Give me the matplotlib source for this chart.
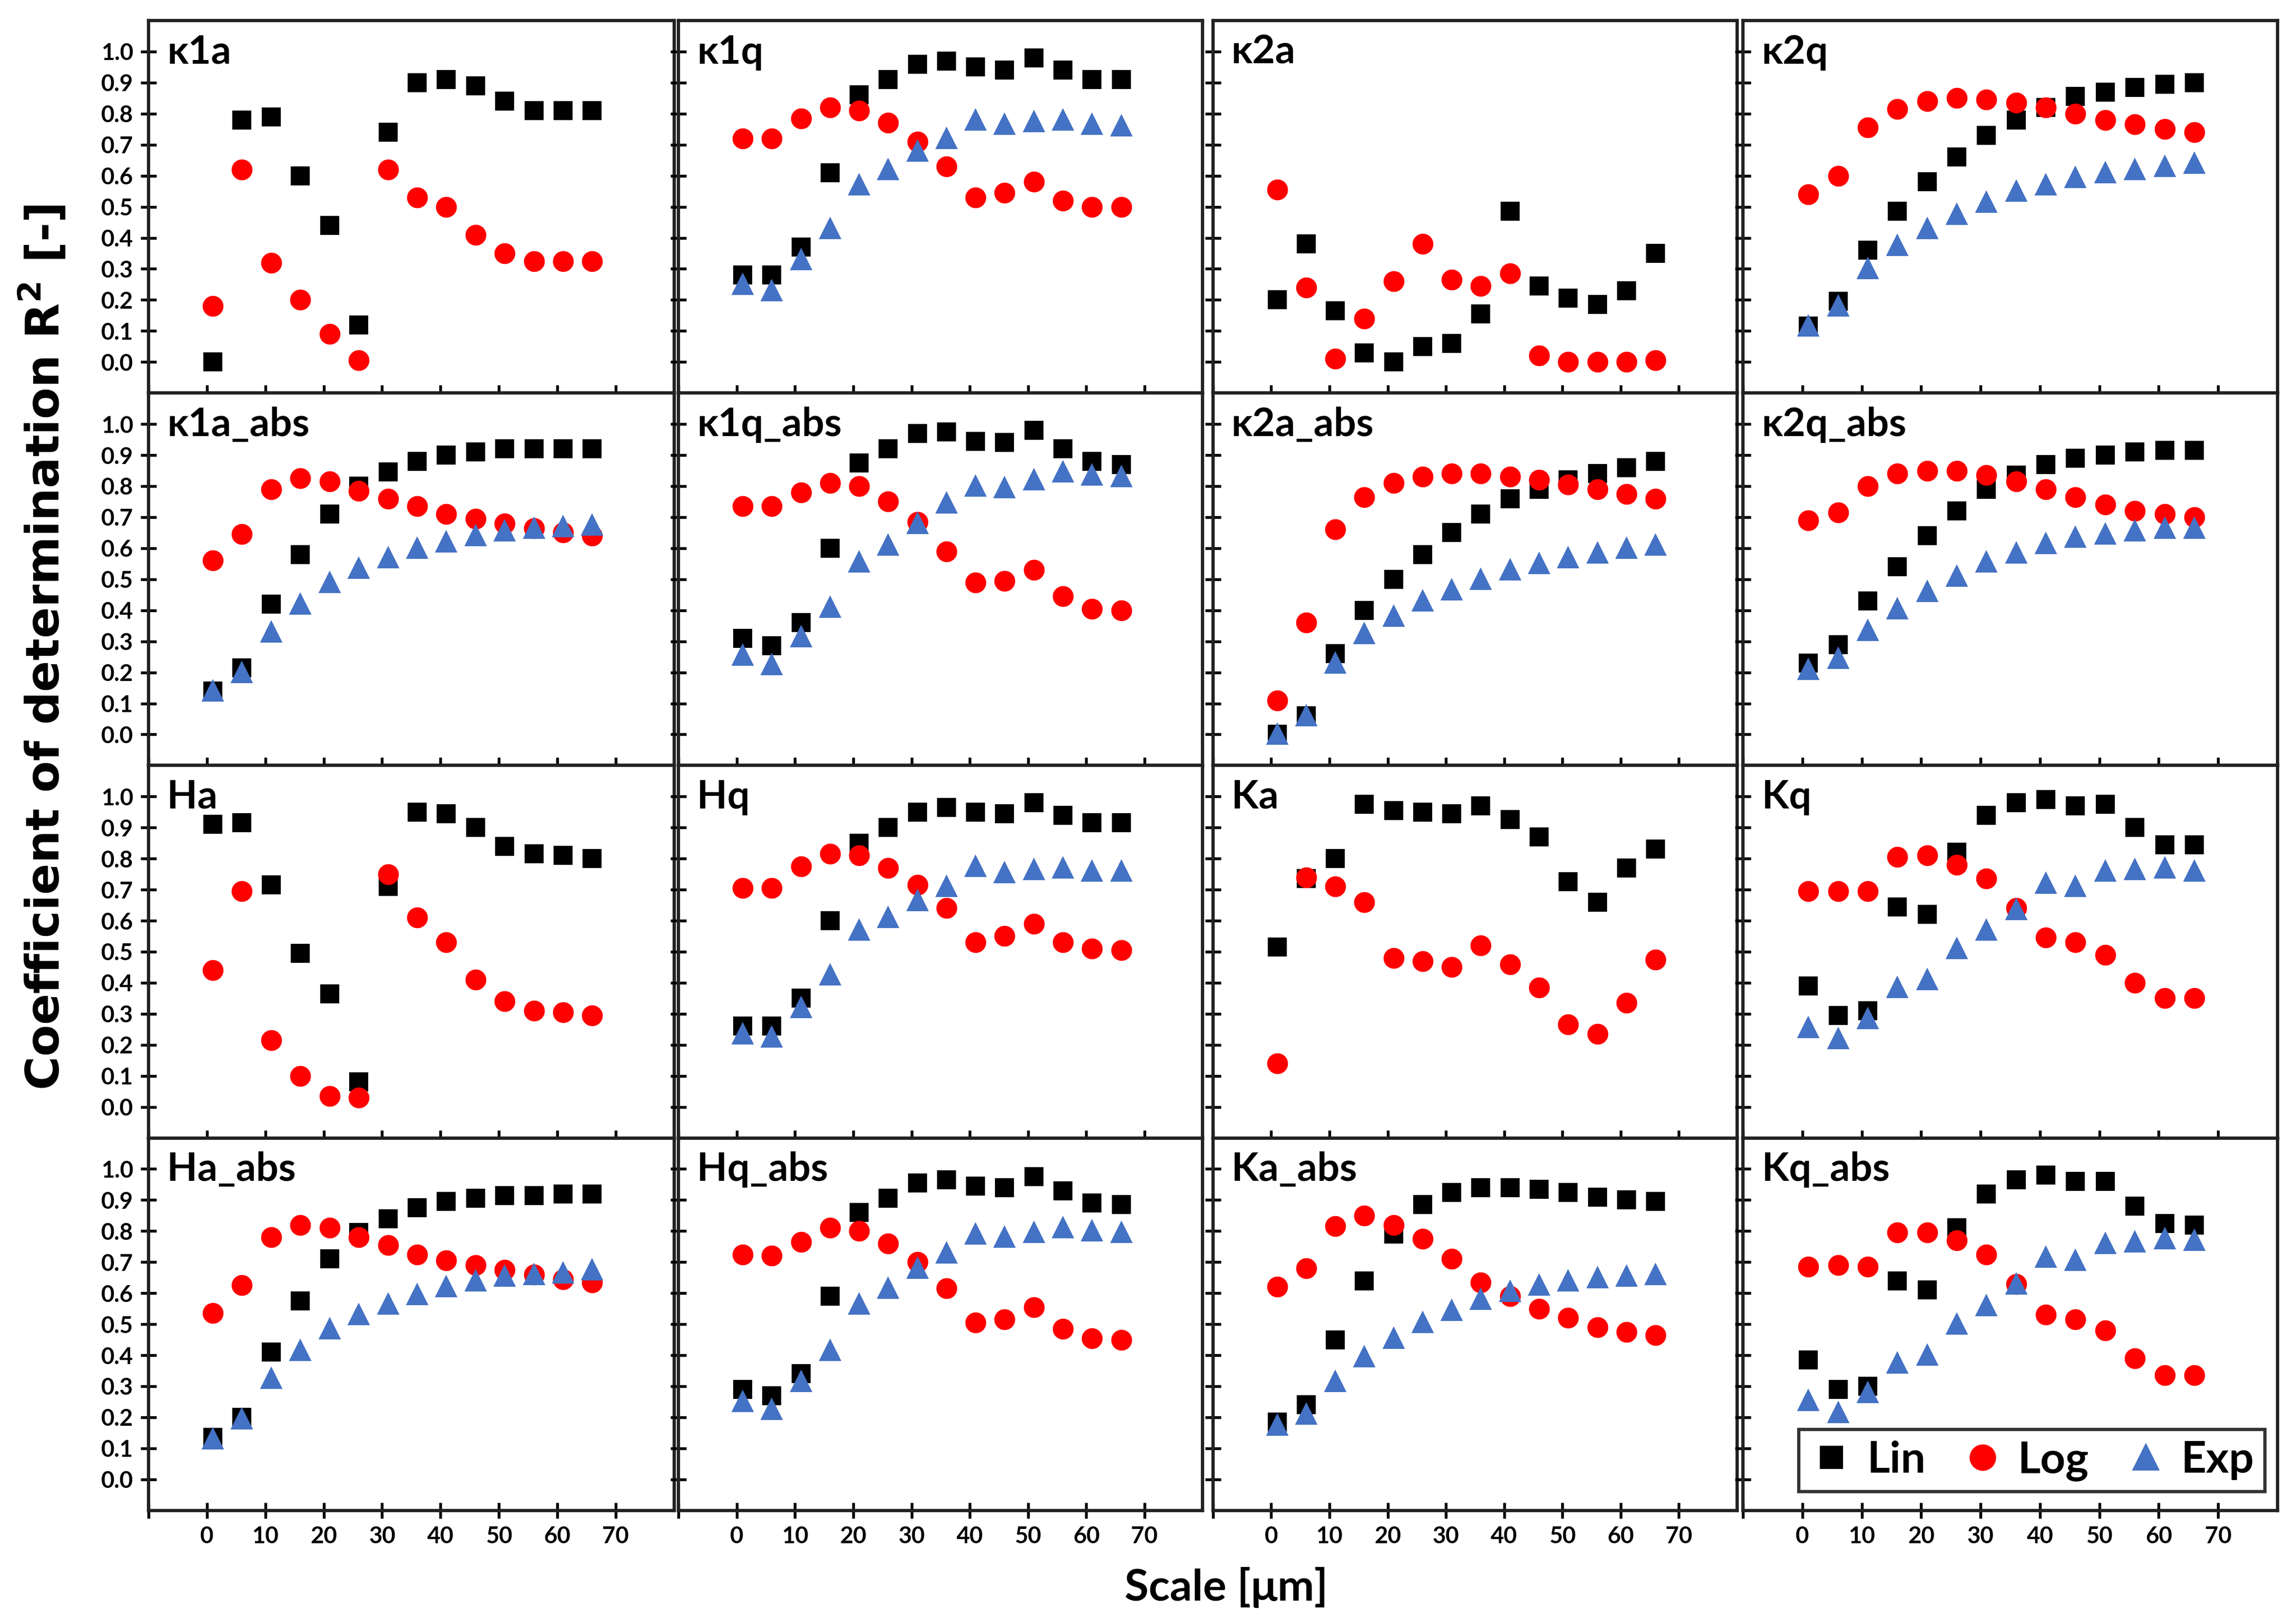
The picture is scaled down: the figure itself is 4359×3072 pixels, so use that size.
import matplotlib.pyplot as plt
from matplotlib.ticker import FixedLocator

plt.rcParams['font.family'] = ['Lato', 'DejaVu Sans']
plt.rcParams['font.weight'] = 'bold'
plt.rcParams['mathtext.default'] = 'regular'

# Scale in µm (same for every panel)
scale = [1, 6, 11, 16, 21, 26, 31, 36, 41, 46, 51, 56, 61, 66]

# row 1
k1a_lin = [0.00, 0.78, 0.79, 0.60, 0.44, 0.12, 0.74, 0.90, 0.91, 0.89, 0.84, 0.81, 0.81, 0.81]
k1a_log = [0.18, 0.62, 0.32, 0.20, 0.09, 0.005, 0.62, 0.53, 0.50, 0.41, 0.35, 0.325, 0.325, 0.325]

k1q_lin = [0.28, 0.28, 0.37, 0.61, 0.86, 0.91, 0.96, 0.97, 0.95, 0.94, 0.98, 0.94, 0.91, 0.91]
k1q_log = [0.72, 0.72, 0.785, 0.82, 0.81, 0.77, 0.71, 0.63, 0.53, 0.545, 0.58, 0.52, 0.50, 0.50]
k1q_exp = [0.25, 0.23, 0.33, 0.43, 0.57, 0.62, 0.68, 0.72, 0.78, 0.765, 0.775, 0.78, 0.765, 0.76]

k2a_lin = [0.20, 0.38, 0.165, 0.03, 0.00, 0.05, 0.06, 0.155, 0.485, 0.245, 0.205, 0.185, 0.23, 0.35]
k2a_log = [0.555, 0.24, 0.01, 0.14, 0.26, 0.38, 0.265, 0.245, 0.285, 0.02, 0.00, 0.00, 0.00, 0.005]

k2q_lin = [0.115, 0.195, 0.36, 0.485, 0.58, 0.66, 0.73, 0.78, 0.82, 0.855, 0.87, 0.885, 0.895, 0.90]
k2q_log = [0.54, 0.60, 0.755, 0.815, 0.84, 0.85, 0.845, 0.835, 0.82, 0.80, 0.78, 0.765, 0.75, 0.74]
k2q_exp = [0.115, 0.18, 0.30, 0.375, 0.43, 0.475, 0.515, 0.55, 0.57, 0.595, 0.61, 0.62, 0.63, 0.64]

# row 2
k1a_abs_lin = [0.14, 0.215, 0.42, 0.58, 0.71, 0.80, 0.845, 0.88, 0.90, 0.91, 0.92, 0.92, 0.92, 0.92]
k1a_abs_log = [0.56, 0.645, 0.79, 0.825, 0.815, 0.785, 0.76, 0.735, 0.71, 0.695, 0.68, 0.665, 0.65, 0.64]
k1a_abs_exp = [0.14, 0.20, 0.33, 0.42, 0.49, 0.535, 0.57, 0.60, 0.62, 0.64, 0.655, 0.665, 0.67, 0.675]

k1q_abs_lin = [0.31, 0.285, 0.36, 0.60, 0.875, 0.92, 0.97, 0.975, 0.945, 0.94, 0.98, 0.92, 0.88, 0.87]
k1q_abs_log = [0.735, 0.735, 0.78, 0.81, 0.80, 0.75, 0.685, 0.59, 0.49, 0.495, 0.53, 0.445, 0.405, 0.40]
k1q_abs_exp = [0.255, 0.225, 0.315, 0.41, 0.555, 0.61, 0.68, 0.745, 0.80, 0.795, 0.82, 0.845, 0.835, 0.83]

k2a_abs_lin = [0.00, 0.06, 0.26, 0.40, 0.50, 0.58, 0.65, 0.71, 0.76, 0.79, 0.82, 0.84, 0.86, 0.88]
k2a_abs_log = [0.11, 0.36, 0.66, 0.765, 0.81, 0.83, 0.84, 0.84, 0.83, 0.82, 0.805, 0.79, 0.775, 0.76]
k2a_abs_exp = [0.00, 0.06, 0.23, 0.325, 0.38, 0.43, 0.465, 0.50, 0.53, 0.55, 0.57, 0.585, 0.60, 0.61]

k2q_abs_lin = [0.23, 0.29, 0.43, 0.54, 0.64, 0.72, 0.79, 0.835, 0.87, 0.89, 0.90, 0.91, 0.915, 0.915]
k2q_abs_log = [0.69, 0.715, 0.80, 0.84, 0.85, 0.85, 0.835, 0.815, 0.79, 0.765, 0.74, 0.72, 0.71, 0.70]
k2q_abs_exp = [0.21, 0.245, 0.335, 0.405, 0.46, 0.51, 0.555, 0.585, 0.615, 0.635, 0.645, 0.655, 0.665, 0.665]

# row 3
ha_lin = [0.91, 0.915, 0.715, 0.495, 0.365, 0.08, 0.71, 0.95, 0.945, 0.90, 0.84, 0.815, 0.81, 0.80]
ha_log = [0.44, 0.695, 0.215, 0.10, 0.035, 0.03, 0.75, 0.61, 0.53, 0.41, 0.34, 0.31, 0.305, 0.295]

hq_lin = [0.26, 0.26, 0.35, 0.60, 0.85, 0.90, 0.95, 0.965, 0.95, 0.945, 0.98, 0.94, 0.915, 0.915]
hq_log = [0.705, 0.705, 0.775, 0.815, 0.81, 0.77, 0.715, 0.64, 0.53, 0.55, 0.59, 0.53, 0.51, 0.505]
hq_exp = [0.235, 0.225, 0.32, 0.425, 0.57, 0.61, 0.665, 0.71, 0.775, 0.755, 0.765, 0.77, 0.76, 0.76]

ka_lin = [0.515, 0.735, 0.80, 0.975, 0.955, 0.95, 0.945, 0.97, 0.925, 0.87, 0.725, 0.66, 0.77, 0.83]
ka_log = [0.14, 0.74, 0.71, 0.66, 0.48, 0.47, 0.45, 0.52, 0.46, 0.385, 0.265, 0.235, 0.335, 0.475]

kq_lin = [0.39, 0.295, 0.31, 0.645, 0.62, 0.82, 0.94, 0.98, 0.99, 0.97, 0.975, 0.90, 0.845, 0.845]
kq_log = [0.695, 0.695, 0.695, 0.805, 0.81, 0.78, 0.735, 0.64, 0.545, 0.53, 0.49, 0.40, 0.35, 0.35]
kq_exp = [0.255, 0.22, 0.285, 0.385, 0.41, 0.51, 0.57, 0.635, 0.72, 0.71, 0.76, 0.765, 0.77, 0.76]

# row 4
ha_abs_lin = [0.135, 0.20, 0.41, 0.575, 0.71, 0.795, 0.84, 0.875, 0.895, 0.905, 0.915, 0.915, 0.92, 0.92]
ha_abs_log = [0.535, 0.625, 0.78, 0.82, 0.81, 0.78, 0.755, 0.725, 0.705, 0.69, 0.675, 0.66, 0.645, 0.635]
ha_abs_exp = [0.13, 0.195, 0.325, 0.415, 0.485, 0.53, 0.565, 0.595, 0.62, 0.64, 0.655, 0.66, 0.665, 0.675]

hq_abs_lin = [0.29, 0.27, 0.34, 0.59, 0.86, 0.905, 0.955, 0.965, 0.945, 0.94, 0.975, 0.93, 0.89, 0.885]
hq_abs_log = [0.725, 0.72, 0.765, 0.81, 0.80, 0.76, 0.70, 0.615, 0.505, 0.515, 0.555, 0.485, 0.455, 0.45]
hq_abs_exp = [0.25, 0.225, 0.315, 0.415, 0.565, 0.615, 0.68, 0.73, 0.79, 0.78, 0.795, 0.81, 0.80, 0.795]

ka_abs_lin = [0.185, 0.24, 0.45, 0.64, 0.79, 0.885, 0.925, 0.94, 0.94, 0.935, 0.925, 0.91, 0.90, 0.895]
ka_abs_log = [0.62, 0.68, 0.815, 0.85, 0.82, 0.775, 0.71, 0.635, 0.59, 0.55, 0.52, 0.49, 0.475, 0.465]
ka_abs_exp = [0.175, 0.21, 0.315, 0.395, 0.455, 0.505, 0.545, 0.58, 0.605, 0.625, 0.64, 0.65, 0.655, 0.66]

kq_abs_lin = [0.385, 0.29, 0.30, 0.64, 0.61, 0.81, 0.92, 0.965, 0.98, 0.96, 0.96, 0.88, 0.825, 0.82]
kq_abs_log = [0.685, 0.69, 0.685, 0.795, 0.795, 0.77, 0.725, 0.63, 0.53, 0.515, 0.48, 0.39, 0.335, 0.335]
kq_abs_exp = [0.255, 0.215, 0.28, 0.375, 0.40, 0.50, 0.56, 0.63, 0.715, 0.705, 0.76, 0.765, 0.775, 0.77]

panels = [
    ("κ1a", k1a_lin, k1a_log, None),
    ("κ1q", k1q_lin, k1q_log, k1q_exp),
    ("κ2a", k2a_lin, k2a_log, None),
    ("κ2q", k2q_lin, k2q_log, k2q_exp),
    ("κ1a_abs", k1a_abs_lin, k1a_abs_log, k1a_abs_exp),
    ("κ1q_abs", k1q_abs_lin, k1q_abs_log, k1q_abs_exp),
    ("κ2a_abs", k2a_abs_lin, k2a_abs_log, k2a_abs_exp),
    ("κ2q_abs", k2q_abs_lin, k2q_abs_log, k2q_abs_exp),
    ("Ha", ha_lin, ha_log, None),
    ("Hq", hq_lin, hq_log, hq_exp),
    ("Ka", ka_lin, ka_log, None),
    ("Kq", kq_lin, kq_log, kq_exp),
    ("Ha_abs", ha_abs_lin, ha_abs_log, ha_abs_exp),
    ("Hq_abs", hq_abs_lin, hq_abs_log, hq_abs_exp),
    ("Ka_abs", ka_abs_lin, ka_abs_log, ka_abs_exp),
    ("Kq_abs", kq_abs_lin, kq_abs_log, kq_abs_exp),
]

fig = plt.figure(figsize=(14.533, 10.24), dpi=300)

# panel grid (figure fractions)
lefts = [0.0647, 0.2955, 0.5282, 0.7590]
widths = [0.2288, 0.2282, 0.2282, 0.2327]
bottoms = [0.7571, 0.5269, 0.2967, 0.0665]
height = 0.2302

x_ticks = [-10, 0, 10, 20, 30, 40, 50, 60, 70]
y_ticks = [0.0, 0.1, 0.2, 0.3, 0.4, 0.5, 0.6, 0.7, 0.8, 0.9, 1.0]

for i, (name, lin, log, exp) in enumerate(panels):
    r, c = divmod(i, 4)
    ax = fig.add_axes([lefts[c], bottoms[r], widths[c], height])

    ax.plot(scale, lin, 's', color='black', markersize=7.5, linestyle='none', label='Lin')
    ax.plot(scale, log, 'o', color='#ff0000', markersize=8.5, linestyle='none', label='Log')
    if exp is not None:
        ax.plot(scale, exp, '^', color='#4472c4', markersize=8.5, linestyle='none', label='Exp')

    ax.set_xlim(-10, 80)
    ax.set_ylim(-0.1, 1.1)
    ax.xaxis.set_major_locator(FixedLocator(x_ticks))
    ax.yaxis.set_major_locator(FixedLocator(y_ticks))
    ax.tick_params(direction='inout', length=7, width=1.3, labelsize=10.5)

    for sp in ax.spines.values():
        sp.set_linewidth(1.5)
        sp.set_color('#222222')

    if c == 0:
        ax.set_yticklabels([f"{v:.1f}" for v in y_ticks])
    else:
        ax.set_yticklabels([])
    if r == 3:
        ax.set_xticklabels([""] + [str(v) for v in x_ticks[1:]])
    else:
        ax.set_xticklabels([])

    ax.text(0.035, 0.915, name, transform=ax.transAxes, fontsize=18,
            fontweight='bold', va='center', ha='left')

    if i == len(panels) - 1:
        leg = ax.legend(loc='lower right', bbox_to_anchor=(0.977, 0.05), ncol=3,
                        fontsize=20, frameon=True, fancybox=False,
                        handletextpad=0.3, columnspacing=0.8, handlelength=1.0,
                        borderpad=0.25, markerscale=1.3, borderaxespad=0)
        leg.get_frame().set_edgecolor('black')
        leg.get_frame().set_linewidth(1.5)

fig.text(0.019, 0.60, "Coefficient of determination R$^2$ [-]", rotation=90,
         ha='center', va='center', fontsize=21, fontweight='bold',
         family=['DejaVu Sans'])
fig.text(0.534, 0.019, "Scale [μm]", ha='center', va='center',
         fontsize=20, fontweight='bold')

fig.savefig("out.png", dpi=300)
